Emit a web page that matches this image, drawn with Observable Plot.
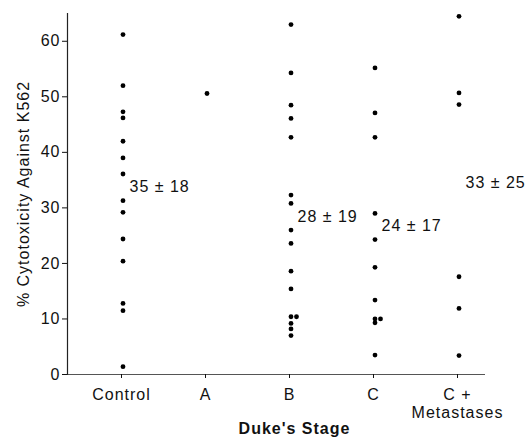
<!DOCTYPE html>
<html>
<head>
<meta charset="utf-8">
<script src="https://cdn.jsdelivr.net/npm/d3@7"></script>
<script src="https://cdn.jsdelivr.net/npm/@observablehq/plot@0.6"></script>
<style>
  html, body { margin: 0; padding: 0; background: #fff; }
</style>
</head>
<body>
<div id="chart"></div>
<script>
const groups = ["Control", "A", "B", "C", "C+"];
const tickLabels = ["Control", "A", "B", "C", "C +\nMetastases"];
const control = [61.2, 52.0, 47.3, 46.2, 42.0, 39.0, 36.1, 31.3, 29.2, 24.4, 20.4, 12.8, 11.5, 1.4];
const stageA = [50.6];
const stageB = [63.0, 54.3, 48.5, 46.1, 42.7, 32.3, 30.8, 26.0, 23.6, 18.6, 15.4, 10.4, 10.4, 9.2, 8.2, 7.0];
const stageC = [55.2, 47.1, 42.7, 29.0, 24.3, 19.3, 13.4, 10.0, 9.3, 10.0, 3.5];
const stageCM = [64.5, 50.7, 48.6, 17.6, 11.9, 3.4];
const summaryGroups = ["Control", "B", "C", "C+"];
const summaryText = ["35 \u00b1 18", "28 \u00b1 19", "24 \u00b1 17", "33 \u00b1 25"];
const summaryY = [33.8, 28.3, 26.8, 34.5];
const yTicks = [0, 10, 20, 30, 40, 50, 60];

const series = [control, stageA, stageB, stageC, stageCM];
const points = [];
series.forEach((vals, gi) => {
  const seen = new Map();
  vals.forEach(v => {
    const k = seen.get(v) || 0;
    seen.set(v, k + 1);
    points.push({group: groups[gi], value: v, tie: k});
  });
});
const summary = summaryGroups.map((g, i) => ({group: g, text: summaryText[i], y: summaryY[i]}));

const chart = Plot.plot({
  width: 525,
  height: 441,
  marginLeft: 67,
  marginRight: 40,
  marginTop: 13,
  marginBottom: 67,
  style: "font-family: 'Liberation Sans', Arial, Helvetica, sans-serif; font-size: 16px; letter-spacing: 1px; color: #111; background: #fff;",
  x: {type: "point", domain: groups, range: [121, 457], padding: 0},
  y: {domain: [0, 65]},
  marks: [
    Plot.ruleY([0], {stroke: "#555", strokeWidth: 1.2}),
    Plot.frame({anchor: "left", stroke: "#222", strokeWidth: 1.2}),
    Plot.axisY({
      ticks: yTicks,
      tickSize: 5,
      tickPadding: 2,
      fontSize: 16,
      label: "% Cytotoxicity Against K562",
      labelAnchor: "center",
      labelArrow: "none",
      labelOffset: 50
    }),
    Plot.axisX({
      tickSize: 4,
      tickPadding: 9,
      fontSize: 16,
      lineHeight: 1.1,
      tickFormat: (d, i) => tickLabels[groups.indexOf(d)],
      label: null
    }),
    Plot.text(["Duke's Stage"], {
      frameAnchor: "bottom",
      dx: 18,
      dy: 59,
      fontWeight: "bold",
      fontSize: 16,
      text: d => d
    }),
    Plot.dot(points.filter(p => p.tie === 0), {x: "group", y: "value", r: 2.4, fill: "#000", dx: 1.5}),
    Plot.dot(points.filter(p => p.tie === 1), {x: "group", y: "value", r: 2.4, fill: "#000", dx: 7}),
    Plot.text(summary, {
      x: "group",
      y: "y",
      text: "text",
      textAnchor: "start",
      dx: 8,
      fontSize: 16
    })
  ]
});
document.getElementById("chart").appendChild(chart);
</script>
</body>
</html>
